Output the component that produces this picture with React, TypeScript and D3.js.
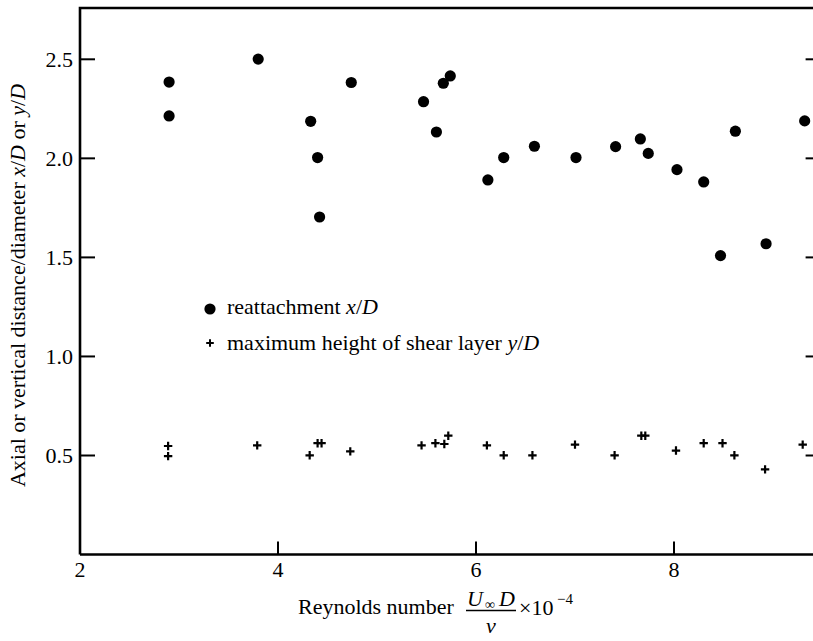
import React from "react";
import * as d3 from "d3";

// Reynolds number (×10⁻⁴) and reattachment length x/D
const reattachRe = [2.90, 2.90, 3.80, 4.33, 4.40, 4.42, 4.74, 5.47, 5.60, 5.67, 5.74, 6.12, 6.28, 6.59, 7.01, 7.41, 7.66, 7.74, 8.03, 8.30, 8.62, 8.47, 8.93, 9.32];
const reattachXD = [2.385, 2.214, 2.501, 2.187, 2.004, 1.704, 2.383, 2.286, 2.133, 2.379, 2.416, 1.891, 2.004, 2.061, 2.004, 2.059, 2.098, 2.025, 1.943, 1.881, 2.137, 1.509, 1.569, 2.189];

// Reynolds number (×10⁻⁴) and maximum shear-layer height y/D
const shearRe = [2.89, 2.89, 3.79, 4.32, 4.40, 4.44, 4.73, 5.45, 5.59, 5.68, 5.72, 6.11, 6.28, 6.57, 7.00, 7.40, 7.67, 7.71, 8.02, 8.30, 8.49, 8.61, 8.92, 9.30];
const shearYD = [0.548, 0.497, 0.551, 0.501, 0.562, 0.562, 0.521, 0.551, 0.562, 0.558, 0.600, 0.551, 0.501, 0.501, 0.555, 0.501, 0.600, 0.600, 0.525, 0.562, 0.562, 0.501, 0.430, 0.555];

const xTicks = [2, 4, 6, 8];
const yTicks = [0.5, 1.0, 1.5, 2.0, 2.5];
const yTickLabels = ["0.5", "1.0", "1.5", "2.0", "2.5"];

const W = 813;
const H = 641;
const FONT = '"Liberation Serif", "Times New Roman", Times, serif';

export default function App() {
  const x = d3.scaleLinear().domain([2, 9.4]).range([80, 812.6]);
  const y = d3.scaleLinear().domain([0.5, 2.5]).range([455.5, 59.3]);
  const left = x(2);
  const right = x(9.4);
  const bottom = y(0);
  const top = 8;

  const dots = reattachRe.map((re, i) => ({ re, v: reattachXD[i] }));
  const crosses = shearRe.map((re, i) => ({ re, v: shearYD[i] }));

  const crossPath = (cx: number, cy: number, s: number) =>
    `M${cx - s},${cy}H${cx + s}M${cx},${cy - s}V${cy + s}`;

  const txt: React.CSSProperties = { fontFamily: FONT, fill: "#000" };

  return (
    <svg
      width={W}
      height={H}
      viewBox={`0 0 ${W} ${H}`}
      style={{ position: "absolute", left: 0, top: 0, background: "#fff", fontFamily: FONT }}
    >
      {/* frame */}
      <path
        d={`M${left},${bottom}V${top}H${right + 3}M${left},${bottom}H${right + 3}`}
        fill="none"
        stroke="#000"
        strokeWidth={2.6}
      />

      {/* y ticks, left and right */}
      {yTicks.map((t, i) => (
        <g key={`yt${i}`}>
          <line x1={left} x2={left + 15} y1={y(t)} y2={y(t)} stroke="#000" strokeWidth={2} />
          <line x1={right - 7} x2={right + 2} y1={y(t)} y2={y(t)} stroke="#000" strokeWidth={2} />
          <text x={73} y={y(t)} dy="0.35em" textAnchor="end" fontSize={22} style={txt}>
            {yTickLabels[i]}
          </text>
        </g>
      ))}

      {/* x ticks */}
      {xTicks.map((t) => (
        <g key={`xt${t}`}>
          {t !== 2 && (
            <line x1={x(t)} x2={x(t)} y1={bottom} y2={bottom - 13} stroke="#000" strokeWidth={2} />
          )}
          <text x={x(t)} y={577} textAnchor="middle" fontSize={22} style={txt}>
            {t}
          </text>
        </g>
      ))}

      {/* reattachment points */}
      {dots.map((d, i) => (
        <circle key={`d${i}`} cx={x(d.re)} cy={y(d.v)} r={5.6} fill="#000" />
      ))}

      {/* shear-layer height points */}
      {crosses.map((d, i) => (
        <path
          key={`c${i}`}
          d={crossPath(x(d.re), y(d.v), 4.2)}
          stroke="#000"
          strokeWidth={2.2}
          fill="none"
        />
      ))}

      {/* legend */}
      <circle cx={210} cy={309} r={5.6} fill="#000" />
      <text x={227} y={314} fontSize={22} style={txt}>
        reattachment <tspan fontStyle="italic">x</tspan>/<tspan fontStyle="italic">D</tspan>
      </text>
      <path d={crossPath(210, 343, 3.8)} stroke="#000" strokeWidth={2} fill="none" />
      <text x={227} y={350} fontSize={22} style={txt}>
        maximum height of shear layer <tspan fontStyle="italic">y</tspan>/
        <tspan fontStyle="italic">D</tspan>
      </text>

      {/* y-axis title */}
      <text
        transform={`translate(25,285.5) rotate(-90)`}
        textAnchor="middle"
        fontSize={22}
        style={txt}
      >
        Axial or vertical distance/diameter <tspan fontStyle="italic">x</tspan>/
        <tspan fontStyle="italic">D</tspan> or <tspan fontStyle="italic">y</tspan>/
        <tspan fontStyle="italic">D</tspan>
      </text>

      {/* x-axis title */}
      <text x={298} y={614} fontSize={22} style={txt}>
        Reynolds number
      </text>
      <text x={467} y={606} fontSize={22} fontStyle="italic" style={txt}>
        U
      </text>
      <text x={485} y={609} fontSize={14} style={txt}>
        ∞
      </text>
      <text x={499} y={606} fontSize={22} fontStyle="italic" style={txt}>
        D
      </text>
      <line x1={466} x2={516} y1={610.5} y2={610.5} stroke="#000" strokeWidth={1.4} />
      <text x={491} y={633} fontSize={22} fontStyle="italic" textAnchor="middle" style={txt}>
        ν
      </text>
      <text x={519} y={615} fontSize={22} style={txt}>
        ×10
      </text>
      <text x={557} y={604} fontSize={15} style={txt}>
        −4
      </text>
    </svg>
  );
}
